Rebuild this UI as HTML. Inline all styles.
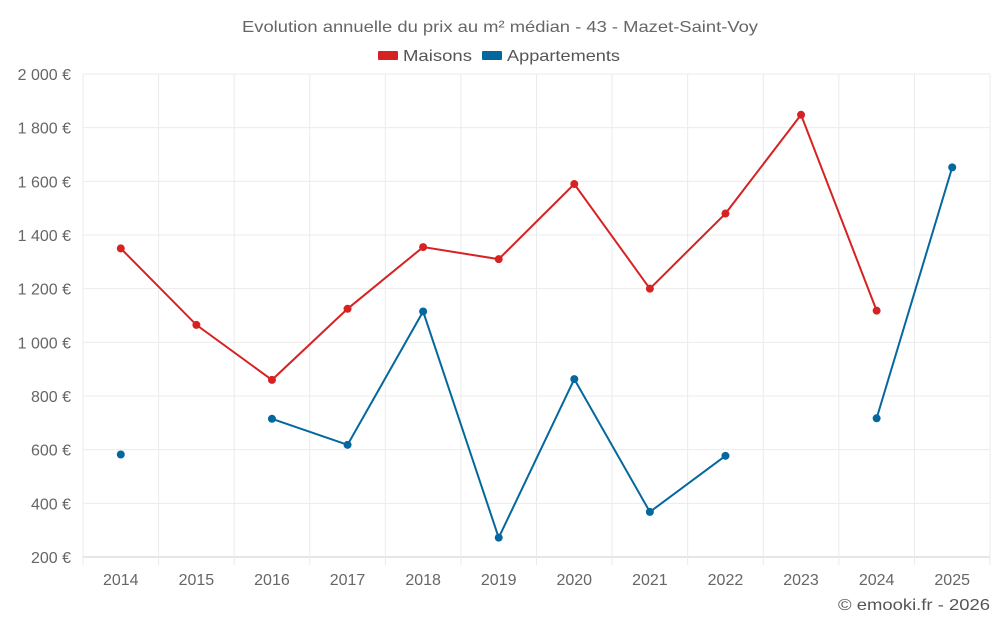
<!DOCTYPE html>
<html><head><meta charset="utf-8"><style>
body{margin:0;background:#fff;font-family:"Liberation Sans",sans-serif}
svg text{font-family:"Liberation Sans",sans-serif}
</style></head><body>
<svg id="chart" width="1000" height="625">
<text x="242" y="32" font-size="16" fill="#666" textLength="516" lengthAdjust="spacingAndGlyphs">Evolution annuelle du prix au m² médian - 43 - Mazet-Saint-Voy</text>
<g><rect x="378" y="51" width="20" height="9" rx="1" fill="#d62223"/><text x="403" y="61" font-size="16" fill="#555" textLength="69" lengthAdjust="spacingAndGlyphs">Maisons</text></g>
<g><rect x="482" y="51" width="20" height="9" rx="1" fill="#04679e"/><text x="507" y="61" font-size="16" fill="#555" textLength="113" lengthAdjust="spacingAndGlyphs">Appartements</text></g>
<g id="grid"></g><g id="axes"></g><g id="series"></g>
<text x="838" y="610" font-size="16" fill="#555" textLength="152" lengthAdjust="spacingAndGlyphs">© emooki.fr - 2026</text>
</svg>
<script>
const years=[2014,2015,2016,2017,2018,2019,2020,2021,2022,2023,2024,2025];
const maisons=[1350,1065,860,1125,1355,1310,1590,1200,1480,1848,1118,null];
const appartements=[582,null,715,618,1115,272,863,368,577,null,717,1652];
const yTicks=[200,400,600,800,1000,1200,1400,1600,1800,2000];
const yLabels=["200 €","400 €","600 €","800 €","1 000 €","1 200 €","1 400 €","1 600 €","1 800 €","2 000 €"];
const L=83,R=990,T=74,B=557,NS="http://www.w3.org/2000/svg";
const bw=(R-L)/years.length;
const x=i=>L+bw*(i+0.5);
const y=v=>B-(v-200)/1800*(B-T);
function el(t,a,p){const e=document.createElementNS(NS,t);for(const k in a)e.setAttribute(k,a[k]);document.getElementById(p).appendChild(e);return e;}
yTicks.forEach((v,i)=>{
 const g=el('line',{x1:L,x2:R,y1:y(v),y2:y(v),stroke:i==0?'#ccc':'#ebebeb'},'grid');
 
 
 const t=el('text',{x:L-12,y:y(v)+6,'text-anchor':'end','font-size':16,fill:'#666'},'axes');
 t.textContent=yLabels[i];
 
 
});
for(let i=0;i<=years.length;i++){
 const g=el('line',{x1:L+bw*i,x2:L+bw*i,y1:T,y2:B+8,stroke:'#ebebeb'},'grid');
 
 
}
years.forEach((yr,i)=>{
 const t=el('text',{x:x(i),y:585,'text-anchor':'middle','font-size':16,fill:'#666'},'axes');
 t.textContent=yr;
 
 
});
function series(vals,color,name){
 let seg=[];
 const flush=()=>{if(seg.length>1){const p=el('polyline',{points:seg.join(' '),fill:'none',stroke:color,'stroke-width':2},'series');
  
  }seg=[];};
 vals.forEach((v,i)=>{if(v==null){flush();return;}seg.push(x(i)+','+y(v));});
 flush();
 vals.forEach((v,i)=>{if(v==null)return;
  const c=el('circle',{cx:x(i),cy:y(v),r:4,fill:color},'series');
  
  });
}
series(maisons,'#d62223','maisons');
series(appartements,'#04679e','appartements');
</script>
</body></html>
